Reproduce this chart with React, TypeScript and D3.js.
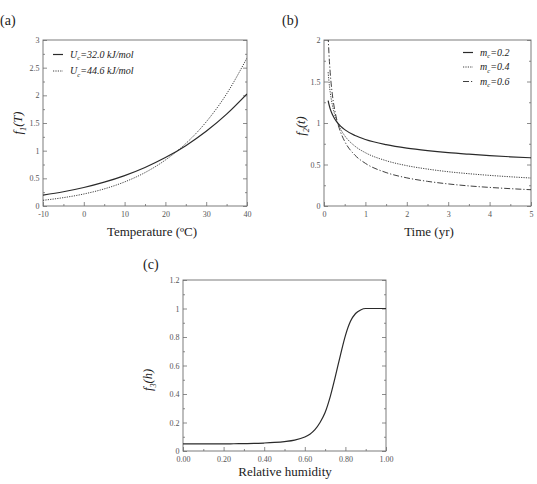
import React from "react";
import * as d3 from "d3";

// (a) temperature factor
const tempC = [-10, -5, 0, 5, 10, 15, 20, 25, 30, 35, 40];
const fTemp32 = [0.196, 0.257, 0.334, 0.431, 0.55, 0.697, 0.875, 1.091, 1.35, 1.66, 2.026];
const fTemp446 = [0.103, 0.151, 0.217, 0.309, 0.435, 0.604, 0.831, 1.129, 1.52, 2.026, 2.676];

// (b) time factor
const timeYr = [0.1, 0.12, 0.15, 0.2, 0.25, 0.3, 0.35, 0.4, 0.5, 0.75, 1, 1.5, 2, 2.5, 3, 3.5, 4, 4.5, 5];
const fTime02 = [1.27, 1.224, 1.171, 1.105, 1.057, 1.019, 0.988, 0.962, 0.92, 0.849, 0.801, 0.739, 0.697, 0.667, 0.643, 0.624, 0.607, 0.593, 0.581];
const fTime04 = [1.613, 1.499, 1.371, 1.222, 1.117, 1.039, 0.977, 0.926, 0.847, 0.72, 0.642, 0.546, 0.486, 0.445, 0.413, 0.389, 0.369, 0.352, 0.337];
const fTime06 = [2.048, 1.835, 1.605, 1.35, 1.181, 1.059, 0.965, 0.891, 0.779, 0.611, 0.514, 0.403, 0.339, 0.297, 0.266, 0.242, 0.224, 0.209, 0.196];

// (c) humidity factor
const humidity = [0, 0.05, 0.1, 0.15, 0.2, 0.25, 0.3, 0.35, 0.4, 0.45, 0.5, 0.55, 0.6, 0.625, 0.65, 0.675, 0.7, 0.725, 0.75, 0.775, 0.8, 0.825, 0.85, 0.875, 0.9, 0.95, 1];
const fHum = [0.05, 0.05, 0.05, 0.05, 0.05, 0.051, 0.052, 0.053, 0.056, 0.06, 0.066, 0.076, 0.098, 0.118, 0.15, 0.2, 0.27, 0.38, 0.52, 0.67, 0.81, 0.91, 0.965, 0.99, 1.0, 1.0, 1.0];

const SERIF = '"Liberation Serif", "Times New Roman", Tinos, "DejaVu Serif", serif';
const INK = "#2a2a2a";
const FRAME = "#6e6e6e";

type Piece = { t: string; sub?: boolean };

function addRich(sel: any, pieces: Piece[], size: number) {
  let down = false;
  pieces.forEach((p) => {
    const ts = sel.append("tspan").text(p.t);
    if (p.sub && !down) {
      ts.attr("dy", size * 0.28).attr("font-size", size * 0.66);
      down = true;
    } else if (!p.sub && down) {
      ts.attr("dy", -size * 0.28);
      down = false;
    }
  });
}

export default function App() {
  const svgRef = React.useRef<SVGSVGElement>(null);

  React.useEffect(() => {
    const svg = d3.select(svgRef.current);
    svg.selectAll("*").remove();

    function panel(opts: any) {
      const { x0, x1, y0, y1, xDom, yDom, xMajor, xMinor, yMajor, yMinor, xFmt, yFmt, id } = opts;
      const x = d3.scaleLinear().domain(xDom).range([x0, x1]);
      const y = d3.scaleLinear().domain(yDom).range([y1, y0]);
      const g = svg.append("g");

      g.append("clipPath").attr("id", id).append("rect")
        .attr("x", x0).attr("y", y0).attr("width", x1 - x0).attr("height", y1 - y0);

      // minor ticks
      g.append("g").attr("transform", `translate(0,${y1})`)
        .call(d3.axisBottom(x).tickValues(xMinor).tickSize(-2).tickFormat(() => ""));
      g.append("g").attr("transform", `translate(${x0},0)`)
        .call(d3.axisLeft(y).tickValues(yMinor).tickSize(-2).tickFormat(() => ""));
      g.append("g").attr("transform", `translate(${x1},0)`)
        .call(d3.axisRight(y).tickValues(yMinor).tickSize(-2).tickFormat(() => ""));

      // major ticks with labels
      g.append("g").attr("transform", `translate(0,${y1})`)
        .call(d3.axisBottom(x).tickValues(xMajor).tickSize(-4).tickPadding(5).tickFormat(xFmt));
      g.append("g").attr("transform", `translate(${x0},0)`)
        .call(d3.axisLeft(y).tickValues(yMajor).tickSize(-4).tickPadding(3.5).tickFormat(yFmt));
      g.append("g").attr("transform", `translate(${x1},0)`)
        .call(d3.axisRight(y).tickValues(yMajor).tickSize(-4).tickFormat(() => ""));

      g.selectAll(".domain").remove();
      g.selectAll("g").attr("font-family", null);
      g.selectAll(".tick line").attr("stroke", FRAME).attr("stroke-width", 0.8);
      g.selectAll(".tick text")
        .style("font-family", SERIF)
        .attr("font-size", 8)
        .attr("fill", "#555");

      g.append("rect")
        .attr("x", x0).attr("y", y0).attr("width", x1 - x0).attr("height", y1 - y0)
        .attr("fill", "none").attr("stroke", FRAME).attr("stroke-width", 0.9);

      const plot = g.append("g").attr("clip-path", `url(#${id})`);
      return { x, y, g, plot };
    }

    function curve(p: any, xs: number[], ys: number[], dash: string | null) {
      const line = d3.line<number>()
        .x((_, i) => p.x(xs[i]))
        .y((d) => p.y(d))
        .curve(d3.curveMonotoneX);
      p.plot.append("path")
        .attr("d", line(ys))
        .attr("fill", "none")
        .attr("stroke", INK)
        .attr("stroke-width", dash ? 0.9 : 1.2)
        .attr("stroke-dasharray", dash);
    }

    function text(x: number, y: number, pieces: Piece[], size: number, italic: boolean, anchor = "start", rotate = false) {
      const t = svg.append("text")
        .style("font-family", SERIF)
        .attr("font-size", size)
        .attr("font-style", italic ? "italic" : "normal")
        .attr("fill", "#222")
        .attr("text-anchor", anchor);
      if (rotate) t.attr("transform", `translate(${x},${y}) rotate(-90)`);
      else t.attr("x", x).attr("y", y);
      addRich(t, pieces, size);
      return t;
    }

    function legendRow(x: number, y: number, dash: string | null, pieces: Piece[]) {
      svg.append("line")
        .attr("x1", x).attr("x2", x + 10).attr("y1", y).attr("y2", y)
        .attr("stroke", INK).attr("stroke-width", dash ? 0.9 : 1.2)
        .attr("stroke-dasharray", dash);
      text(x + 17, y + 3, pieces, 10, true);
    }

    // plain hyphen for negatives, no trailing zeros
    const fmtG = (d: number) => d3.format("~g")(d).replace("\u2212", "-");
    const DOT = "1.2,1.2";
    const DASHDOT = "6,2,1.2,2";

    // (a)
    const pa = panel({
      id: "clip-a", x0: 43, x1: 247, y0: 40, y1: 206,
      xDom: [-10, 40], yDom: [0, 3],
      xMajor: d3.range(-10, 41, 10), xMinor: d3.range(-5, 40, 10),
      yMajor: d3.range(0, 3.01, 0.5), yMinor: d3.range(0.25, 3, 0.5),
      xFmt: fmtG, yFmt: fmtG,
    });
    curve(pa, tempC, fTemp32, null);
    curve(pa, tempC, fTemp446, DOT);
    legendRow(53, 54.5, null, [{ t: "U" }, { t: "c", sub: true }, { t: "=32.0 kJ/mol" }]);
    legendRow(53, 71, DOT, [{ t: "U" }, { t: "c", sub: true }, { t: "=44.6 kJ/mol" }]);
    text(0, 25, [{ t: "(a)" }], 14, false);
    text(152, 236, [{ t: "Temperature (ºC)" }], 13, false, "middle");
    text(22, 123, [{ t: "f" }, { t: "1", sub: true }, { t: "(T)" }], 12.5, true, "middle", true);

    // (b)
    const pb = panel({
      id: "clip-b", x0: 324, x1: 531, y0: 40, y1: 206,
      xDom: [0, 5], yDom: [0, 2],
      xMajor: d3.range(0, 5.01, 1), xMinor: d3.range(0.5, 5, 1),
      yMajor: d3.range(0, 2.01, 0.5), yMinor: d3.range(0.25, 2, 0.5),
      xFmt: fmtG, yFmt: fmtG,
    });
    curve(pb, timeYr, fTime02, null);
    curve(pb, timeYr, fTime04, DOT);
    curve(pb, timeYr, fTime06, DASHDOT);
    legendRow(463, 52.5, null, [{ t: "m" }, { t: "c", sub: true }, { t: "=0.2" }]);
    legendRow(463, 67, DOT, [{ t: "m" }, { t: "c", sub: true }, { t: "=0.4" }]);
    legendRow(463, 81.5, DASHDOT, [{ t: "m" }, { t: "c", sub: true }, { t: "=0.6" }]);
    text(282, 25, [{ t: "(b)" }], 14, false);
    text(429, 236, [{ t: "Time (yr)" }], 13, false, "middle");
    text(305, 126, [{ t: "f" }, { t: "2", sub: true }, { t: "(t)" }], 12.5, true, "middle", true);

    // (c)
    const pc = panel({
      id: "clip-c", x0: 183, x1: 386, y0: 280, y1: 451,
      xDom: [0, 1], yDom: [0, 1.2],
      xMajor: d3.range(0, 1.01, 0.2), xMinor: d3.range(0.1, 1, 0.2),
      yMajor: d3.range(0, 1.21, 0.2), yMinor: d3.range(0.1, 1.2, 0.2),
      xFmt: d3.format(".2f"), yFmt: fmtG,
    });
    curve(pc, humidity, fHum, null);
    text(143, 269, [{ t: "(c)" }], 14, false);
    text(285, 476, [{ t: "Relative humidity" }], 13, false, "middle");
    text(152, 380, [{ t: "f" }, { t: "3", sub: true }, { t: "(h)" }], 12.5, true, "middle", true);
  }, []);

  return (
    <svg
      ref={svgRef}
      width={537}
      height={484}
      style={{ position: "absolute", left: 0, top: 0, background: "#fff" }}
    />
  );
}
